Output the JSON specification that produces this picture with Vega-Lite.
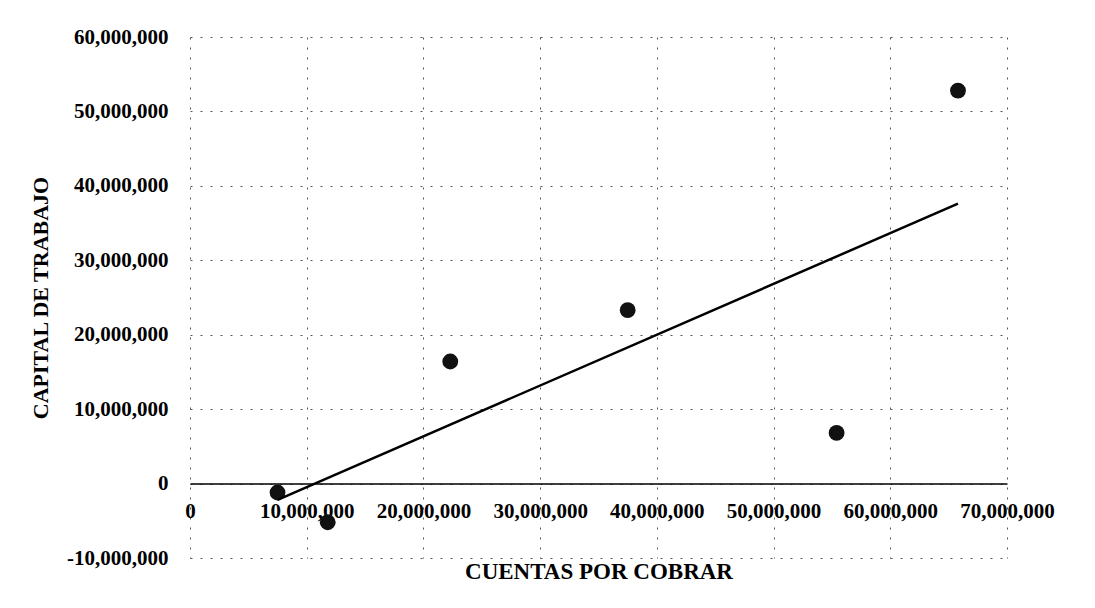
{
  "$schema": "https://vega.github.io/schema/vega-lite/v6.json",
  "width": 817,
  "height": 521,
  "autosize": "none",
  "padding": {"left": 190, "top": 37, "right": 88, "bottom": 50},
  "background": "white",
  "config": {
    "view": {"stroke": null},
    "font": "Liberation Serif"
  },
  "data": {
    "values": [
      {"cuentas": 7500000, "capital": -1200000},
      {"cuentas": 11800000, "capital": -5200000},
      {"cuentas": 22300000, "capital": 16400000},
      {"cuentas": 37500000, "capital": 23300000},
      {"cuentas": 55400000, "capital": 6800000},
      {"cuentas": 65800000, "capital": 52800000}
    ]
  },
  "encoding": {
    "x": {
      "field": "cuentas",
      "type": "quantitative",
      "scale": {"domain": [0, 70000000], "nice": false, "zero": false},
      "axis": {
        "title": "CUENTAS POR COBRAR",
        "values": [0, 10000000, 20000000, 30000000, 40000000, 50000000, 60000000, 70000000],
        "labelExpr": "replace(format(datum.value, ','), '\u2212', '-')",
        "offset": -74.4,
        "domain": true,
        "domainColor": "#000",
        "domainWidth": 1.5,
        "ticks": false,
        "grid": true,
        "gridColor": "#555",
        "gridDash": [2, 8],
        "gridWidth": 1,
        "labelFont": "Liberation Serif",
        "labelFontSize": 21,
        "labelFontWeight": "bold",
        "labelColor": "#000",
        "labelPadding": 17,
        "labelFlush": false,
        "labelOverlap": false,
        "titleFont": "Liberation Serif",
        "titleFontSize": 23,
        "titleFontWeight": "bold",
        "titleColor": "#000",
        "titlePadding": 39
      }
    },
    "y": {
      "field": "capital",
      "type": "quantitative",
      "scale": {"domain": [-10000000, 60000000], "nice": false, "zero": false},
      "axis": {
        "title": "CAPITAL DE TRABAJO",
        "values": [-10000000, 0, 10000000, 20000000, 30000000, 40000000, 50000000, 60000000],
        "labelExpr": "replace(format(datum.value, ','), '\u2212', '-')",
        "domain": false,
        "ticks": false,
        "grid": true,
        "gridColor": "#555",
        "gridDash": [2, 8],
        "gridWidth": 1,
        "labelFont": "Liberation Serif",
        "labelFontSize": 21,
        "labelFontWeight": "bold",
        "labelColor": "#000",
        "labelPadding": 22,
        "labelOverlap": false,
        "titleFont": "Liberation Serif",
        "titleFontSize": 22,
        "titleFontWeight": "bold",
        "titleColor": "#000",
        "titlePadding": 14
      }
    }
  },
  "layer": [
    {
      "mark": {"type": "point", "filled": true, "shape": "circle", "size": 250, "color": "#111", "opacity": 1}
    },
    {
      "transform": [{"regression": "capital", "on": "cuentas"}],
      "mark": {"type": "line", "color": "#000", "strokeWidth": 2.5}
    }
  ]
}
